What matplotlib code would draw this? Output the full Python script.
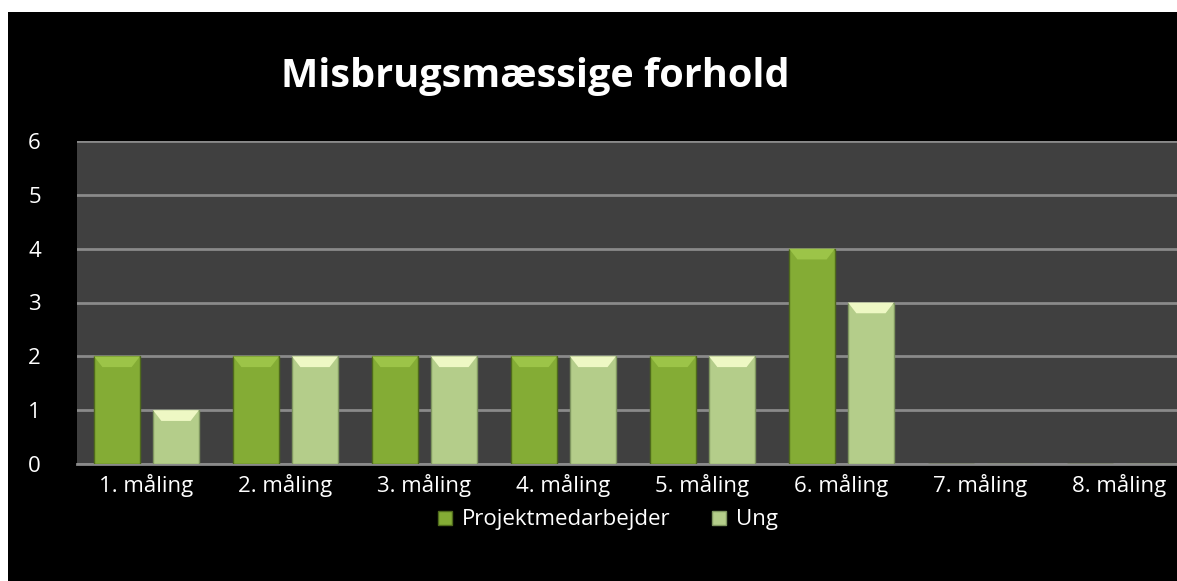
import numpy as np
import matplotlib.pyplot as plt
from matplotlib.patches import Rectangle

categories = ['1. måling', '2. måling', '3. måling', '4. måling',
              '5. måling', '6. måling', '7. måling', '8. måling']
projekt = [2, 2, 2, 2, 2, 4, 0, 0]
ung = [1, 2, 2, 2, 2, 3, 0, 0]
series_names = ['Projektmedarbejder', 'Ung']

W, H = 1177, 581
fig = plt.figure(figsize=(W / 100, H / 100), dpi=100, facecolor='white')
plt.rcParams['font.family'] = ['Open Sans', 'DejaVu Sans']

# black chart panel with thin white margin on the left/top
fig.patches.append(Rectangle((8 / W, 0), 1, 1 - 12 / H, transform=fig.transFigure,
                             facecolor='black', edgecolor='none', zorder=-5))

ax = fig.add_axes([77 / W, (H - 464) / H, (1189 - 77) / W, (464 - 141) / H])
ax.set_zorder(2)
ax.set_facecolor('#404040')

x = np.arange(len(categories))
bw = 0.33
off = 0.212
dark = '#84AC35'
light = '#B4CD8A'

b1 = ax.bar(x - off, projekt, bw, color=dark, edgecolor='#4F6A1C', linewidth=1.0, zorder=3,
            label=series_names[0])
b2 = ax.bar(x + off, ung, bw, color=light, edgecolor='#7F9660', linewidth=1.0, zorder=3,
            label=series_names[1])

# bevel highlight on top of each bar
bev = 0.2
for vals, xs, c in [(projekt, x - off, '#9CC448'), (ung, x + off, '#EEF8C4')]:
    for xi, v in zip(xs, vals):
        if v > 0:
            ax.fill([xi - bw / 2, xi + bw / 2, xi + bw / 2 - 0.06, xi - bw / 2 + 0.06],
                    [v, v, v - bev, v - bev], color=c, zorder=4, lw=0)

ax.set_ylim(0, 6)
ax.set_xlim(-0.5, len(categories) - 0.5)
ax.set_yticks(range(0, 7))
ax.yaxis.grid(True, color='#8A8A8A', linewidth=2, zorder=1)
ax.set_axisbelow(True)
for s in ['top', 'right', 'left']:
    ax.spines[s].set_visible(False)
ax.spines['bottom'].set_color('#8A8A8A')
ax.spines['bottom'].set_linewidth(2)

ax.set_xticks(x)
ax.set_xticklabels(categories)
ax.tick_params(axis='x', length=0, pad=7, colors='white', labelsize=16)
ax.tick_params(axis='y', length=0, pad=26, colors='white', labelsize=16)

fig.text(535 / W, 1 - 77 / H, 'Misbrugsmæssige forhold', color='white',
         fontsize=28.5, fontweight='bold', ha='center', va='center')

leg = fig.legend(handles=[b1, b2], loc='center', bbox_to_anchor=(608 / W, 1 - 520 / H),
                 ncol=2, frameon=False, fontsize=16, labelcolor='white',
                 handlelength=0.6, handleheight=0.6, handletextpad=0.45, columnspacing=1.9)

fig.savefig('out.png', dpi=100, facecolor='white')
